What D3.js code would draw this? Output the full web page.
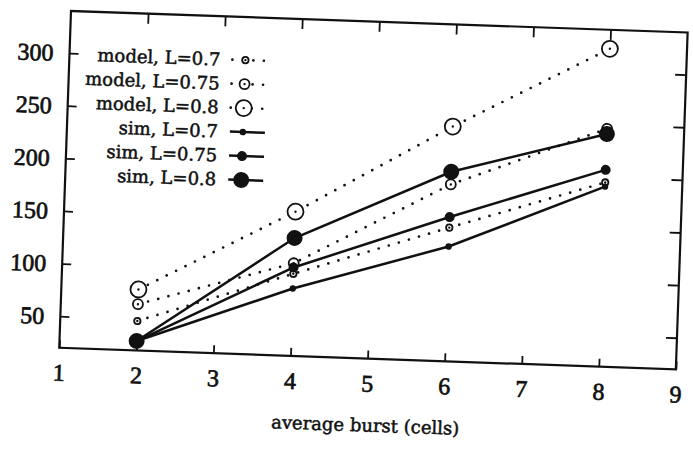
<!DOCTYPE html>
<html>
<head>
<meta charset="utf-8">
<script src="https://cdnjs.cloudflare.com/ajax/libs/d3/7.8.5/d3.min.js"></script>
<style>
body { margin: 0; background: #fff; }
.tick text { font-family: "Liberation Serif", serif; font-size: 24px; fill: #111; stroke: #111; stroke-width: 0.7px; }
.lbl { font-family: "DejaVu Serif", serif; font-size: 18px; fill: #111; stroke: #111; stroke-width: 0.5px; }
</style>
</head>
<body>
<script>
var width = 693;
var height = 454;

// values
var bursts = [2, 4, 6, 8];
var model07 = [48, 98, 147, 195];
var model075 = [64, 108, 188, 246];
var model08 = [78, 157, 243, 322];
var sim07 = [29, 84, 129, 191];
var sim075 = [29, 104, 157, 207];
var sim08 = [29, 132, 200, 241];

var xTicks = [1, 2, 3, 4, 5, 6, 7, 8, 9];
var yTicks = [50, 100, 150, 200, 250, 300];
var seriesNames = ['model, L=0.7', 'model, L=0.75', 'model, L=0.8',
                   'sim, L=0.7', 'sim, L=0.75', 'sim, L=0.8'];
var xTitle = 'average burst (cells)';

// marker size per load
var radius = [3.2, 5, 8];

var series = [
    {name: seriesNames[0], values: model07, model: true, r: radius[0]},
    {name: seriesNames[1], values: model075, model: true, r: radius[1]},
    {name: seriesNames[2], values: model08, model: true, r: radius[2]},
    {name: seriesNames[3], values: sim07, model: false, r: radius[0]},
    {name: seriesNames[4], values: sim075, model: false, r: radius[1]},
    {name: seriesNames[5], values: sim08, model: false, r: radius[2]}
];

var w = 617, h = 337;

var svg = d3.select('body')
    .append('svg')
    .attr('width', width)
    .attr('height', height);

// the scan is tilted by about two degrees
var g = svg.append('g')
    .attr('transform', 'translate(71,11) rotate(2)');

var x = d3.scaleLinear().domain([1, 9]).range([0, w]),
    y = d3.scaleLinear().domain([20, 340]).range([h, 0]);

g.append('g')
    .attr('transform', 'translate(0,' + h + ')')
    .call(d3.axisBottom(x).tickValues(xTicks).tickSizeInner(-8).tickSizeOuter(0).tickPadding(16))
    .call(function(a) { a.select('.domain').remove(); });

g.append('g')
    .call(d3.axisLeft(y).tickValues(yTicks).tickSizeInner(-9).tickSizeOuter(0).tickPadding(16))
    .call(function(a) { a.select('.domain').remove(); });

g.append('g')
    .call(d3.axisTop(x).tickValues(xTicks.slice(1, -1)).tickSizeInner(-10).tickSizeOuter(0).tickFormat(''))
    .call(function(a) { a.select('.domain').remove(); });

g.append('g')
    .attr('transform', 'translate(' + w + ',0)')
    .call(d3.axisRight(y).tickValues(yTicks).tickSizeInner(-11).tickSizeOuter(0).tickFormat(''))
    .call(function(a) { a.select('.domain').remove(); });

g.selectAll('.tick line').attr('stroke', '#111').attr('stroke-width', 1.8);

g.append('rect')
    .attr('width', w)
    .attr('height', h)
    .attr('fill', 'none')
    .attr('stroke', '#111')
    .attr('stroke-width', 2.2);

var line = d3.line()
    .x(function(d, i) { return x(bursts[i]); })
    .y(function(d) { return y(d); });

function styleLine(sel, d) {
    sel.attr('fill', 'none')
        .attr('stroke', '#111');
    if (d.model) {
        sel.attr('stroke-width', 2.7)
            .attr('stroke-linecap', 'round')
            .attr('stroke-dasharray', '0 10.5');
    } else {
        sel.attr('stroke-width', 2.5);
    }
}

function drawMarker(sel, d, cx, cy) {
    if (d.model) {
        sel.append('circle').attr('cx', cx).attr('cy', cy).attr('r', d.r)
            .attr('fill', '#fff').attr('stroke', '#111').attr('stroke-width', 1.8);
        sel.append('circle').attr('cx', cx).attr('cy', cy).attr('r', 1.2).attr('fill', '#111');
    } else {
        sel.append('circle').attr('cx', cx).attr('cy', cy).attr('r', d.r).attr('fill', '#111');
    }
}

series.forEach(function(d) {
    g.append('path')
        .datum(d.values)
        .attr('d', line)
        .call(styleLine, d);
});

series.forEach(function(d) {
    var m = g.append('g');
    d.values.forEach(function(v, i) {
        drawMarker(m, d, x(bursts[i]), y(v));
    });
});

// legend
var legend = g.append('g').attr('transform', 'translate(151,43)');
series.forEach(function(d, i) {
    var row = legend.append('g').attr('transform', 'translate(0,' + (i * 24) + ')');
    row.append('text')
        .attr('class', 'lbl')
        .attr('text-anchor', 'end')
        .attr('dy', '0.35em')
        .text(d.name);
    row.append('path')
        .attr('d', 'M12,0H' + (d.model ? 50 : 47))
        .call(styleLine, d);
    drawMarker(row, d, 25, 0);
});

g.append('text')
    .attr('class', 'lbl')
    .attr('x', w / 2)
    .attr('y', 410)
    .attr('text-anchor', 'middle')
    .text(xTitle);
</script>
</body>
</html>
